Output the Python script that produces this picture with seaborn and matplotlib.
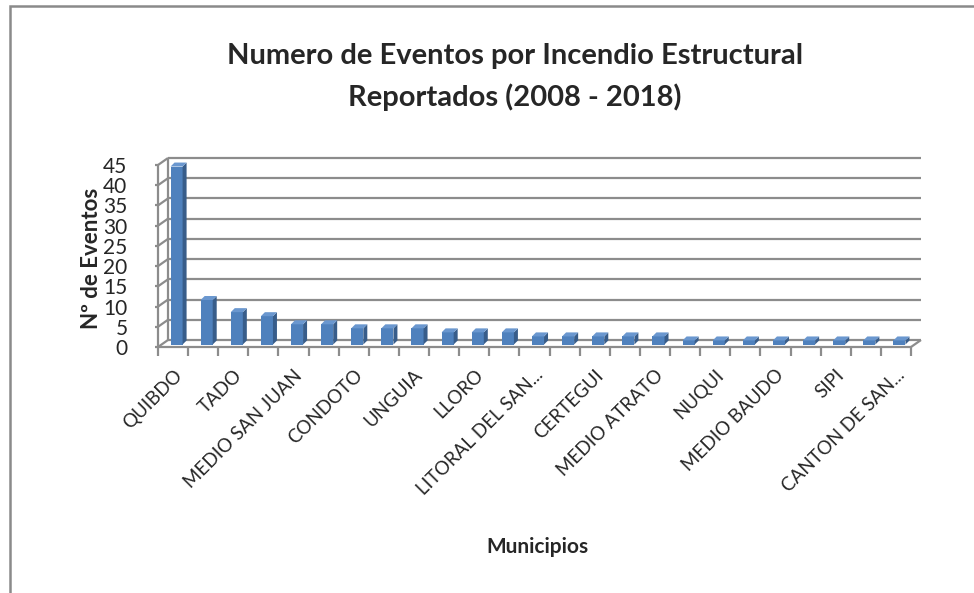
import numpy as np
import pandas as pd
import seaborn as sns
import matplotlib.pyplot as plt
from matplotlib.patches import Polygon, Rectangle

# ---------------- data ----------------
municipios = [
    "QUIBDO", "MUNICIPIO 2", "TADO", "MUNICIPIO 4", "MEDIO SAN JUAN",
    "MUNICIPIO 6", "CONDOTO", "MUNICIPIO 8", "UNGUIA", "MUNICIPIO 10",
    "LLORO", "MUNICIPIO 12", "LITORAL DEL SAN...", "MUNICIPIO 14", "CERTEGUI",
    "MUNICIPIO 16", "MEDIO ATRATO", "MUNICIPIO 18", "NUQUI", "MUNICIPIO 20",
    "MEDIO BAUDO", "MUNICIPIO 22", "SIPI", "MUNICIPIO 24", "CANTON DE SAN...",
]
eventos = [44, 11, 8, 7, 5, 5, 4, 4, 4, 3, 3, 3, 2, 2, 2, 2, 2,
           1, 1, 1, 1, 1, 1, 1, 1]
y_ticks = [0, 5, 10, 15, 20, 25, 30, 35, 40, 45]
titulo = "Numero de Eventos por Incendio Estructural\nReportados (2008 - 2018)"
etiqueta_y = "Nº de Eventos"
etiqueta_x = "Municipios"

# ---------------- style ----------------
sns.set_theme(style="white")
plt.rcParams['font.family'] = ['Lato', 'DejaVu Sans']

FRONT = "#4F81BD"
SIDE = "#385D8A"
TOP = "#6A97CF"
GRID = "#8C8C8C"

W, H = 974, 593
fig = plt.figure(figsize=(W / 100, H / 100), dpi=100)
fig.patch.set_facecolor("white")

# outer chart frame (left and top visible)
fig.add_artist(Rectangle((10 / W, -0.05), 1.2, 1 - 6 / H + 0.05,
                         transform=fig.transFigure, fill=False,
                         edgecolor="#8A8A8A", linewidth=1.8))

# front plane of the 3D plot
ax = fig.add_axes([158 / W, 1 - 347 / H, (911 - 158) / W, (347 - 165) / H])
df = pd.DataFrame({"Municipio": municipios, "Eventos": eventos})
sns.barplot(data=df, x="Municipio", y="Eventos", order=municipios,
            color=FRONT, saturation=1, width=0.4, ax=ax, zorder=5,
            edgecolor="none")

n = len(municipios)
x0, x1 = -0.5, n - 0.5
ax.set_xlim(x0, x1)
ax.set_ylim(0, 45)
for s in ax.spines.values():
    s.set_visible(False)
ax.grid(False)
ax.set_facecolor("none")

# pixel -> data conversion
ux = (x1 - x0) / (911 - 158)
uy = 45 / (347 - 165)
bx, by = 10 * ux, 7 * uy          # depth of the back wall
fx, fy = 3.5 * ux, 2.5 * uy       # bar front face depth offset
dx, dy = 4.0 * ux, 4.0 * uy       # bar depth

lk = dict(color=GRID, lw=1.6, clip_on=False, zorder=1, solid_capstyle="butt")
for v in y_ticks:
    ax.plot([x0 + bx, x1 + bx], [v + by, v + by], **lk)
    ax.plot([x0, x0 + bx], [v, v + by], **lk)
    ax.plot([x0 - 3 * ux, x0], [v, v], **lk)
ax.plot([x0 + bx, x0 + bx], [by, 45 + by], **lk)
ax.plot([x0, x0], [0, 45], **lk)
ax.plot([x0, x1], [0, 0], **lk)
ax.plot([x1, x1 + bx], [0, by], **lk)
for k in range(n + 1):
    xx = x0 + k
    ax.plot([xx, xx], [0, -9 * uy], **lk)

# 3D bars built from seaborn patches
for p in list(ax.patches):
    xa = p.get_x() + fx
    w = p.get_width()
    h = p.get_height()
    ya = fy
    p.set_x(xa)
    p.set_y(ya)
    side = Polygon([(xa + w, ya), (xa + w + dx, ya + dy),
                    (xa + w + dx, ya + h + dy), (xa + w, ya + h)],
                   closed=True, facecolor=SIDE, edgecolor="none",
                   zorder=5, clip_on=False)
    top = Polygon([(xa, ya + h), (xa + w, ya + h),
                   (xa + w + dx, ya + h + dy), (xa + dx, ya + h + dy)],
                  closed=True, facecolor=TOP, edgecolor="none",
                  zorder=5, clip_on=False)
    ax.add_patch(side)
    ax.add_patch(top)
    p.set_clip_on(False)

# ticks & labels
ax.set_yticks(y_ticks)
ax.set_yticklabels([str(v) for v in y_ticks], fontsize=15)
ax.tick_params(axis="y", length=0, pad=22)
pos = list(range(0, n, 2))
ax.set_xticks(pos)
ax.set_xticklabels([municipios[i] for i in pos], fontsize=13.5,
                   rotation=45, ha="right", rotation_mode="anchor")
ax.tick_params(axis="x", length=0, pad=14)

ax.set_xlabel("")
ax.set_ylabel("")
fig.text(92 / W, 1 - 258 / H, etiqueta_y, rotation=90, ha="center",
         va="center", fontsize=16, fontweight="bold")
fig.text(537 / W, 1 - 547 / H, etiqueta_x, ha="center", va="center",
         fontsize=15, fontweight="bold")
fig.text(515 / W, 1 - 77 / H, titulo, ha="center", va="center",
         fontsize=21, fontweight="bold", linespacing=1.6)

fig.savefig("out.png", dpi=100, facecolor="white")
